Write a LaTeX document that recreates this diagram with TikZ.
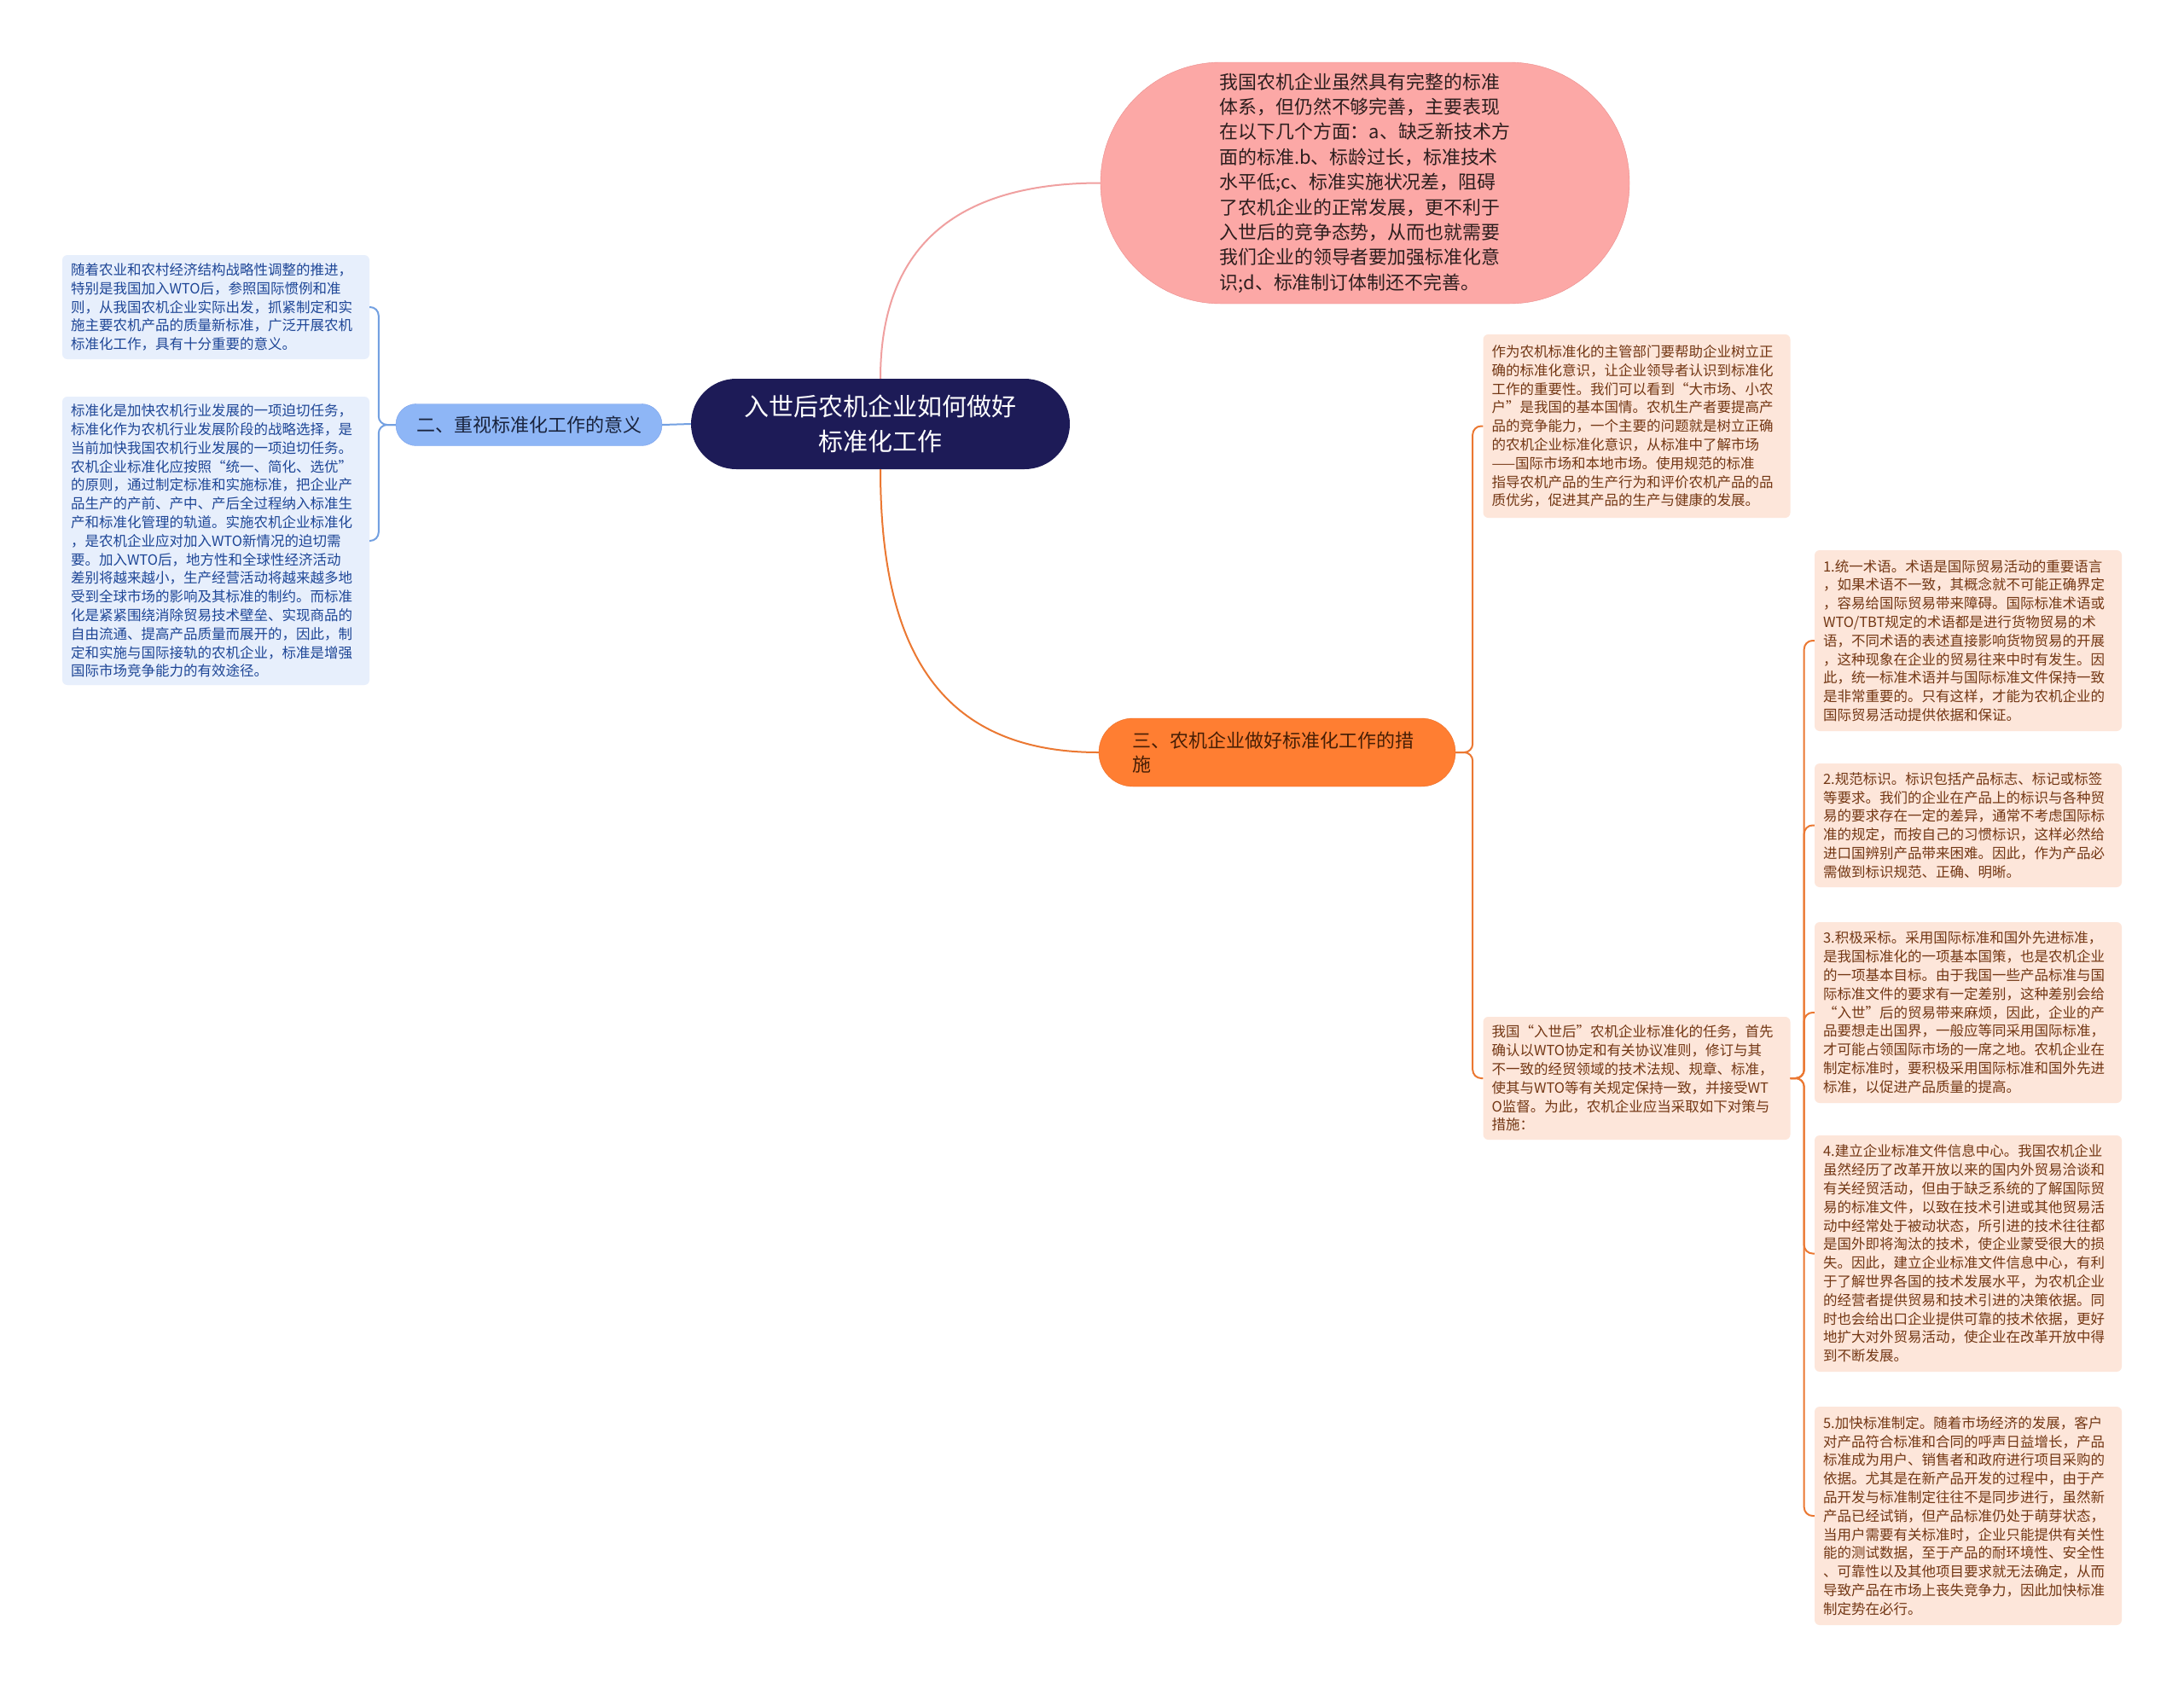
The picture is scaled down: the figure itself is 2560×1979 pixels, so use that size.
\documentclass[tikz,border=0pt]{standalone}
\usepackage{fontspec}
\setmainfont{Noto Sans CJK SC}
\usepackage{xcolor}
\definecolor{navy}{RGB}{29,27,87}
\definecolor{azulb}{RGB}{142,182,246}
\definecolor{azulbd}{RGB}{120,160,235}
\definecolor{azulf}{RGB}{231,239,252}
\definecolor{azult}{RGB}{30,70,150}
\definecolor{azull}{RGB}{115,160,225}
\definecolor{rosa}{RGB}{252,168,166}
\definecolor{rosad}{RGB}{235,140,140}
\definecolor{rosal}{RGB}{240,160,160}
\definecolor{laranja}{RGB}{255,126,50}
\definecolor{laranjad}{RGB}{235,110,40}
\definecolor{laranjaf}{RGB}{253,230,218}
\definecolor{laranjat}{RGB}{115,55,20}
\definecolor{laranjal}{RGB}{235,120,50}
\usepackage{tikz}

\begin{document}
\begin{tikzpicture}[
    x=1pt, y=-1pt,
    root/.style={rectangle, rounded corners=53pt, fill=navy, text=white,
                 minimum width=444pt, minimum height=106pt, align=center,
                 font=\fontsize{29}{41}\selectfont},
    topic/.style={rectangle, font=\fontsize{22}{28}\selectfont},
    note/.style={rectangle, rounded corners=6pt, text width=340pt,
                 inner xsep=10pt, align=left,
                 font=\fontsize{16.5}{21.8}\selectfont},
    bnote/.style={note, fill=azulf, text=azult},
    onote/.style={note, fill=laranjaf, text=laranjat},
    blink/.style={draw=azull, line width=2pt, rounded corners=10pt},
    plink/.style={draw=rosal, line width=2pt},
    olink/.style={draw=laranjal, line width=2pt, rounded corners=10pt}
  ]
  \fill[white] (0,0) rectangle (2560,1979);
  \useasboundingbox (0,0) rectangle (2560,1979);

  % Root
  \node[root] (root) at (1032,497) {入世后农机企业如何做好\\标准化工作};

  % Branch: top (pink)
  \node[topic, fill=rosa, draw=rosad, rounded corners=141pt,
        minimum width=620pt, minimum height=283pt, align=left,
        text={rgb,255:red,45;green,30;blue,30},
        font=\fontsize{21.9}{29.4}\selectfont] (pink) at (1600,214.5)
    {我国农机企业虽然具有完整的标准\\
     体系，但仍然不够完善，主要表现\\
     在以下几个方面：a、缺乏新技术方\\
     面的标准.b、标龄过长，标准技术\\
     水平低;c、标准实施状况差，阻碍\\
     了农机企业的正常发展，更不利于\\
     入世后的竞争态势，从而也就需要\\
     我们企业的领导者要加强标准化意\\
     识;d、标准制订体制还不完善。};
  \draw[plink] (root.north) to[out=90, in=180, looseness=1.2] (pink.west);

  % Branch: left (blue)
  \node[topic, fill=azulb, draw=azulbd, rounded corners=24pt,
        minimum width=312pt, minimum height=49pt,
        text={rgb,255:red,25;green,35;blue,60}] (b2) at (620,498)
    {二、重视标准化工作的意义};
  \draw[blink] (root.west) -- (b2.east);

  \node[bnote, minimum height=122pt] (l1) at (253,360)
    {随着农业和农村经济结构战略性调整的推进，\\
     特别是我国加入WTO后，参照国际惯例和准\\
     则，从我国农机企业实际出发，抓紧制定和实\\
     施主要农机产品的质量新标准，广泛开展农机\\
     标准化工作，具有十分重要的意义。};
  \node[bnote, minimum height=338pt] (l2) at (253,634)
    {标准化是加快农机行业发展的一项迫切任务，\\
     标准化作为农机行业发展阶段的战略选择，是\\
     当前加快我国农机行业发展的一项迫切任务。\\
     农机企业标准化应按照“统一、简化、选优”\\
     的原则，通过制定标准和实施标准，把企业产\\
     品生产的产前、产中、产后全过程纳入标准生\\
     产和标准化管理的轨道。实施农机企业标准化\\
     ，是农机企业应对加入WTO新情况的迫切需\\
     要。加入WTO后，地方性和全球性经济活动\\
     差别将越来越小，生产经营活动将越来越多地\\
     受到全球市场的影响及其标准的制约。而标准\\
     化是紧紧围绕消除贸易技术壁垒、实现商品的\\
     自由流通、提高产品质量而展开的，因此，制\\
     定和实施与国际接轨的农机企业，标准是增强\\
     国际市场竞争能力的有效途径。};
  \draw[blink] (b2.west) -- ++(-20,0) |- (l1.east);
  \draw[blink] (b2.west) -- ++(-20,0) |- (l2.east);

  % Branch: bottom (orange)
  \node[topic, fill=laranja, draw=laranjad, rounded corners=40pt,
        minimum width=418pt, minimum height=80pt, text width=340pt,
        align=left, text={rgb,255:red,70;green,30;blue,5}] (b3) at (1497,882)
    {三、农机企业做好标准化工作的措\\施};
  \draw[plink, draw=laranjal] (root.south) to[out=-90, in=180, looseness=1.2] (b3.west);

  \node[onote, minimum height=215pt] (r1) at (1918.5,499.5)
    {作为农机标准化的主管部门要帮助企业树立正\\
     确的标准化意识，让企业领导者认识到标准化\\
     工作的重要性。我们可以看到“大市场、小农\\
     户”是我国的基本国情。农机生产者要提高产\\
     品的竞争能力，一个主要的问题就是树立正确\\
     的农机企业标准化意识，从标准中了解市场\\
     ——国际市场和本地市场。使用规范的标准\\
     指导农机产品的生产行为和评价农机产品的品\\
     质优劣，促进其产品的生产与健康的发展。};
  \node[onote, minimum height=144pt] (r2) at (1918.5,1264)
    {我国“入世后”农机企业标准化的任务，首先\\
     确认以WTO协定和有关协议准则，修订与其\\
     不一致的经贸领域的技术法规、规章、标准，\\
     使其与WTO等有关规定保持一致，并接受WT\\
     O监督。为此，农机企业应当采取如下对策与\\
     措施：};
  \draw[olink] (b3.east) -- ++(20,0) |- (r1.west);
  \draw[olink] (b3.east) -- ++(20,0) |- (r2.west);

  % Measures
  \node[onote, minimum height=212pt] (s1) at (2307,751)
    {1.统一术语。术语是国际贸易活动的重要语言\\
     ，如果术语不一致，其概念就不可能正确界定\\
     ，容易给国际贸易带来障碍。国际标准术语或\\
     WTO/TBT规定的术语都是进行货物贸易的术\\
     语，不同术语的表述直接影响货物贸易的开展\\
     ，这种现象在企业的贸易往来中时有发生。因\\
     此，统一标准术语并与国际标准文件保持一致\\
     是非常重要的。只有这样，才能为农机企业的\\
     国际贸易活动提供依据和保证。};
  \node[onote, minimum height=145pt] (s2) at (2307,967.5)
    {2.规范标识。标识包括产品标志、标记或标签\\
     等要求。我们的企业在产品上的标识与各种贸\\
     易的要求存在一定的差异，通常不考虑国际标\\
     准的规定，而按自己的习惯标识，这样必然给\\
     进口国辨别产品带来困难。因此，作为产品必\\
     需做到标识规范、正确、明晰。};
  \node[onote, minimum height=212pt] (s3) at (2307,1187)
    {3.积极采标。采用国际标准和国外先进标准，\\
     是我国标准化的一项基本国策，也是农机企业\\
     的一项基本目标。由于我国一些产品标准与国\\
     际标准文件的要求有一定差别，这种差别会给\\
     “入世”后的贸易带来麻烦，因此，企业的产\\
     品要想走出国界，一般应等同采用国际标准，\\
     才可能占领国际市场的一席之地。农机企业在\\
     制定标准时，要积极采用国际标准和国外先进\\
     标准，以促进产品质量的提高。};
  \node[onote, minimum height=277pt] (s4) at (2307,1469.5)
    {4.建立企业标准文件信息中心。我国农机企业\\
     虽然经历了改革开放以来的国内外贸易洽谈和\\
     有关经贸活动，但由于缺乏系统的了解国际贸\\
     易的标准文件，以致在技术引进或其他贸易活\\
     动中经常处于被动状态，所引进的技术往往都\\
     是国外即将淘汰的技术，使企业蒙受很大的损\\
     失。因此，建立企业标准文件信息中心，有利\\
     于了解世界各国的技术发展水平，为农机企业\\
     的经营者提供贸易和技术引进的决策依据。同\\
     时也会给出口企业提供可靠的技术依据，更好\\
     地扩大对外贸易活动，使企业在改革开放中得\\
     到不断发展。};
  \node[onote, minimum height=256pt] (s5) at (2307,1777)
    {5.加快标准制定。随着市场经济的发展，客户\\
     对产品符合标准和合同的呼声日益增长，产品\\
     标准成为用户、销售者和政府进行项目采购的\\
     依据。尤其是在新产品开发的过程中，由于产\\
     品开发与标准制定往往不是同步进行，虽然新\\
     产品已经试销，但产品标准仍处于萌芽状态，\\
     当用户需要有关标准时，企业只能提供有关性\\
     能的测试数据，至于产品的耐环境性、安全性\\
     、可靠性以及其他项目要求就无法确定，从而\\
     导致产品在市场上丧失竞争力，因此加快标准\\
     制定势在必行。};
  \foreach \s in {s1,s2,s3,s4,s5} {
    \draw[olink] (r2.east) -- ++(16,0) |- (\s.west);
  }
\end{tikzpicture}
\end{document}
